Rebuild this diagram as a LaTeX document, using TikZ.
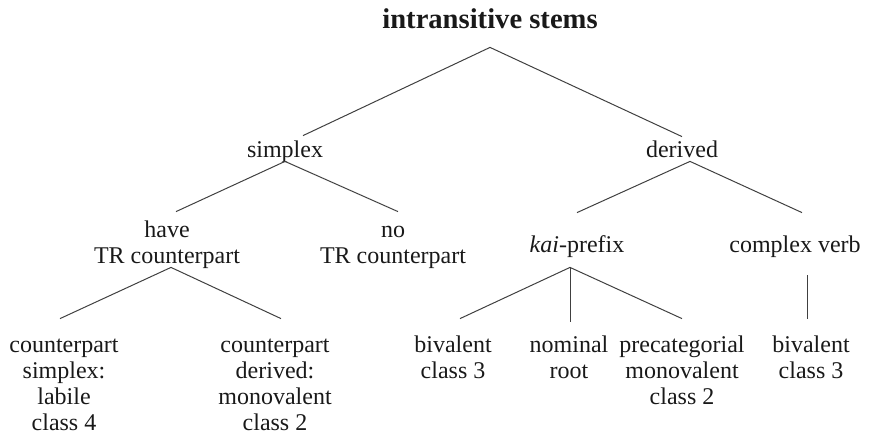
\documentclass[tikz,border=0pt]{standalone}
\usepackage{fontspec}
\setmainfont{Liberation Serif}
\usetikzlibrary{positioning}
\definecolor{mainBlack}{gray}{0.1}
\definecolor{lineGray}{gray}{0.25}

\begin{document}
\begin{tikzpicture}[x=0.5pt, y=-0.5pt,
    term/.style={anchor=base, inner sep=0pt, align=center, text=mainBlack, font=\fontsize{12}{13}\selectfont},
    branch/.style={draw=lineGray, line width=0.5pt}]
    \useasboundingbox (0,0) rectangle (876,434);

    % Root
    \node[term, font=\fontsize{14.3}{16}\selectfont\bfseries, text depth=9.5pt] (root) at (490,28) {intransitive stems};

    % First split
    \node[term, text height=10.5pt, text depth=2pt] (simplex) at (285,157) {simplex};
    \node[term, text height=10pt, text depth=2pt] (derived) at (682,157) {derived};
    \draw[branch] (root.south) -- ([xshift=9pt]simplex.north);
    \draw[branch] (root.south) -- (derived.north);

    % Simplex side (base = last line)
    \node[term, text height=25.5pt, text depth=2pt] (have) at (167,263) {have\\TR counterpart};
    \node[term, text height=25.5pt] (no) at (393,263) {no\\TR counterpart};
    \draw[branch] (simplex.south) -- ([xshift=4.5pt]have.north);
    \draw[branch] (simplex.south) -- ([xshift=2.5pt]no.north);

    % Derived side
    \node[term, text height=19.5pt, text depth=7.5pt] (kai) at (577,252) {\textit{kai}-prefix};
    \node[term, text height=19.5pt, text depth=11.5pt] (complex) at (795,252) {complex verb};
    \draw[branch] ([xshift=4pt]derived.south) -- (kai.north);
    \draw[branch] ([xshift=4pt]derived.south) -- ([xshift=3.5pt]complex.north);

    % Leaves
    \node[term, text height=55.5pt] (cSimplex) at (64,430) {counterpart\\simplex:\\labile\\class 4};
    \node[term, text height=55.5pt] (cDerived) at (275,430) {counterpart\\derived:\\monovalent\\class 2};
    \node[term, text height=29.5pt] (bivA) at (453,378) {bivalent\\class 3};
    \node[term, text height=28pt] (nominal) at (569,378) {nominal\\root};
    \node[term, text height=42.5pt] (precat) at (682,404) {precategorial\\monovalent\\class 2};
    \node[term, text height=29.5pt] (bivB) at (811,378) {bivalent\\class 3};
    \draw[branch] ([xshift=2pt]have.south) -- ([xshift=-2pt]cSimplex.north);
    \draw[branch] ([xshift=2pt]have.south) -- ([xshift=3pt]cDerived.north);
    \draw[branch] ([xshift=-3.5pt]kai.south) -- ([xshift=3.5pt]bivA.north);
    \draw[branch] ([xshift=-3.5pt]kai.south) -- ([xshift=0.5pt]nominal.north);
    \draw[branch] ([xshift=-3.5pt]kai.south) -- (precat.north);
    \draw[branch] ([xshift=6pt]complex.south) -- ([xshift=-2pt]bivB.north);
\end{tikzpicture}
\end{document}
